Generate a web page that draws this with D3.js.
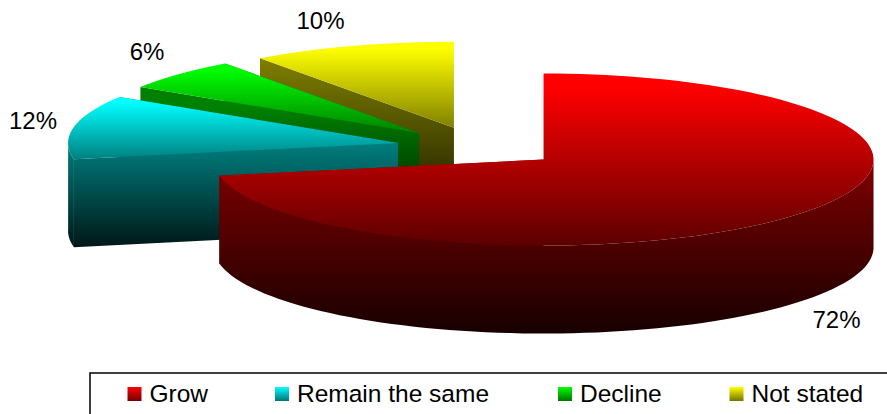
<!DOCTYPE html>
<html>
<head>
<meta charset="utf-8">
<script src="https://cdn.jsdelivr.net/npm/d3@7/dist/d3.min.js"></script>
<style>html,body{margin:0;padding:0;background:#fff}svg{display:block}text{font-family:"Liberation Sans",Arial,sans-serif;fill:#000}</style>
</head>
<body>
<svg id="c" width="887" height="414"></svg>
<script>
const categories = ["Grow", "Remain the same", "Decline", "Not stated"];
const values = [72, 12, 6, 10];
const colours = ["#ff0000", "#00ffff", "#00ff00", "#ffff00"];

const W = 887, H = 414;
const rx = 330, ry = 86, depth = 88;
const baseX = 479.6, baseY = 146.8, explodeX = 83, explodeY = 20;
const labelPos = [[836.5, 328], [33, 129], [147, 60], [320.5, 29]];
const legendCols = [127.5, 275, 558, 729.5];

const svg = d3.select("#c").attr("viewBox", `0 0 ${W} ${H}`);
const defs = svg.append("defs");
const pie = d3.pie().value(d => d).sort(null);
const arcs = pie(values);

function grad(id, colour, y0, y1, f0, f1, hold) {
  const g = defs.append("linearGradient").attr("id", id)
    .attr("gradientUnits", "userSpaceOnUse")
    .attr("x1", 0).attr("x2", 0).attr("y1", y0).attr("y2", y1);
  const c = d3.color(colour);
  const shade = f => d3.rgb(c.r * f, c.g * f, c.b * f).formatHex();
  g.append("stop").attr("offset", hold || 0).attr("stop-color", shade(f0));
  g.append("stop").attr("offset", 1).attr("stop-color", shade(f1));
}

const line = d3.line();
const order = [3, 2, 1, 0]; // painted back to front

order.forEach(i => {
  const a = arcs[i];
  const mid = (a.startAngle + a.endAngle) / 2;
  const cx = baseX + explodeX * Math.sin(mid);
  const cy = baseY - explodeY * Math.cos(mid);
  const px = t => cx + rx * Math.sin(t);
  const py = t => cy - ry * Math.cos(t);
  const n = 120;
  const ts = d3.range(n + 1).map(k => a.startAngle + (a.endAngle - a.startAngle) * k / n);
  const rim = ts.map(t => [px(t), py(t)]);
  const top = Math.min(cy, d3.min(rim, p => p[1]));
  const bot = Math.max(cy, d3.max(rim, p => p[1]));

  grad("top" + i, colours[i], top, bot, 1, i === 0 ? 0.36 : 0.5, 0.08);
  grad("side" + i, colours[i], i === 0 ? cy : top + (i === 3 ? 15 : 45), bot + depth, 0.5, 0.09);

  const g = svg.append("g").attr("class", "slice");
  const sideFill = `url(#side${i})`;
  // cut faces
  [a.startAngle, a.endAngle].forEach(t => {
    g.append("path").attr("fill", sideFill)
      .attr("d", line([[cx, cy], [px(t), py(t)], [px(t), py(t) + depth], [cx, cy + depth]]) + "Z");
  });
  // outer wall: only the part of the rim that faces the viewer
  const front = rim.filter((p, k) => Math.cos(ts[k]) <= 0.02);
  if (front.length > 1) {
    const lower = front.map(p => [p[0], p[1] + depth]).reverse();
    g.append("path").attr("fill", sideFill).attr("d", line(front.concat(lower)) + "Z");
  }
  // top face
  g.append("path").attr("fill", `url(#top${i})`)
    .attr("d", line([[cx, cy]].concat(rim)) + "Z");
});

// percentage labels
values.forEach((v, i) => {
  svg.append("text").attr("x", labelPos[i][0]).attr("y", labelPos[i][1])
    .attr("text-anchor", "middle").attr("font-size", 24).text(v + "%");
});

// legend
svg.append("rect").attr("x", 90).attr("y", 373).attr("width", 830).attr("height", 60)
  .attr("fill", "#fff").attr("stroke", "#000").attr("stroke-width", 1.5);
categories.forEach((c, i) => {
  const x = legendCols[i];
  grad("leg" + i, colours[i], 387, 401, 1, 0.45);
  svg.append("rect").attr("x", x).attr("y", 387).attr("width", 14).attr("height", 14)
    .attr("fill", `url(#leg${i})`);
  svg.append("text").attr("x", x + 22).attr("y", 402).attr("font-size", 24.5).text(c);
});
</script>
</body>
</html>
